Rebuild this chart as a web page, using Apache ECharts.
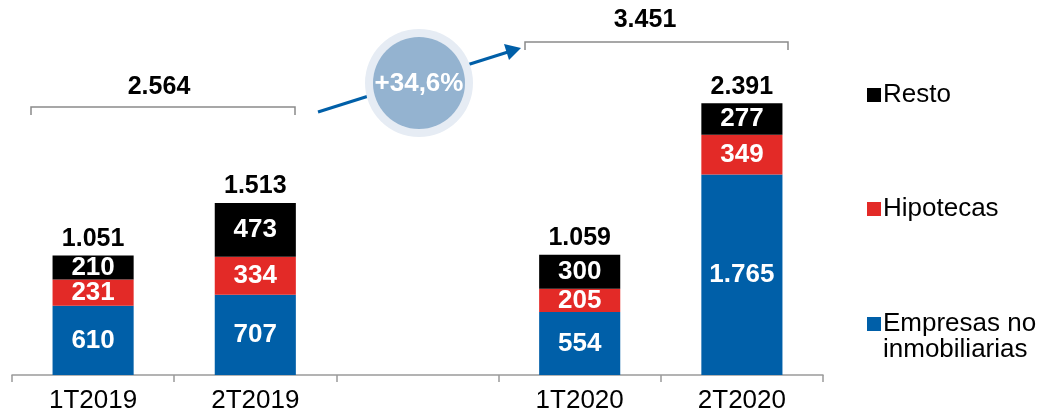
<!DOCTYPE html>
<html>
<head>
<meta charset="utf-8">
<script src="https://cdn.jsdelivr.net/npm/echarts@6/dist/echarts.min.js"></script>
<style>
  html, body { margin: 0; padding: 0; background: #fff; }
  #chart { width: 1043px; height: 418px; }
</style>
</head>
<body>
<div id="chart"></div>
<script>
// datos
const categories = ['1T2019', '2T2019', '', '1T2020', '2T2020'];
const empresas = [610, 707, null, 554, 1765];
const hipotecas = [231, 334, null, 205, 349];
const resto = [210, 473, null, 300, 277];
const totales = [1051, 1513, null, 1059, 2391];
const semestres = ['2.564', '3.451'];
const variacion = '+34,6%';

const FONT = '"Liberation Sans", Arial, sans-serif';
const BLUE = '#005fa8';
const RED = '#e32a27';
const GRAY = '#9a9a9a';

const fmt = (v) => {
  if (v == null) return '';
  return String(v).replace(/\B(?=(\d{3})+(?!\d))/g, '.');
};

const chart = echarts.init(document.getElementById('chart'));

const innerLabel = {
  show: true,
  position: 'inside',
  color: '#fff',
  fontFamily: FONT,
  fontWeight: 'bold',
  fontSize: 26,
  formatter: (p) => fmt(p.value)
};

const legendText = { fontSize: 26, fontFamily: FONT, color: '#000', padding: [0, 0, 0, -3] };

const option = {
  animation: false,
  textStyle: { fontFamily: FONT },
  grid: { left: 12, right: 220, top: 0, bottom: 43 },
  xAxis: {
    type: 'category',
    data: categories,
    axisLine: { lineStyle: { color: GRAY, width: 1.5 } },
    axisTick: { show: true, length: 7, lineStyle: { color: GRAY, width: 1.5 } },
    axisLabel: { color: '#000', fontSize: 26, fontFamily: FONT, margin: 13 }
  },
  yAxis: {
    type: 'value',
    min: 0,
    max: 3300,
    show: false,
    splitLine: { show: false }
  },
  legend: [
    {
      data: ['Resto'], orient: 'vertical', left: 862, top: 77,
      itemWidth: 14, itemHeight: 14, icon: 'rect', textStyle: legendText
    },
    {
      data: ['Hipotecas'], orient: 'vertical', left: 862, top: 191,
      itemWidth: 14, itemHeight: 14, icon: 'rect', textStyle: legendText
    },
    {
      data: ['Empresas no inmobiliarias'], orient: 'vertical', left: 862, top: 306,
      itemWidth: 14, itemHeight: 14, icon: 'rect',
      formatter: () => 'Empresas no', textStyle: legendText
    }
  ],
  series: [
    {
      name: 'Empresas no inmobiliarias', type: 'bar', stack: 'total', barWidth: '50%',
      data: empresas, itemStyle: { color: BLUE }, label: innerLabel
    },
    {
      name: 'Hipotecas', type: 'bar', stack: 'total',
      data: hipotecas, itemStyle: { color: RED }, label: innerLabel
    },
    {
      name: 'Resto', type: 'bar', stack: 'total',
      data: resto, itemStyle: { color: '#000' }, label: innerLabel
    },
    {
      name: 'Total', type: 'bar', stack: 'total',
      data: totales.map((t) => (t == null ? null : 0)),
      itemStyle: { color: 'transparent' },
      label: {
        show: true,
        position: 'top',
        distance: 4,
        color: '#000',
        fontFamily: FONT,
        fontWeight: 'bold',
        fontSize: 25,
        formatter: (p) => fmt(totales[p.dataIndex])
      }
    }
  ],
  graphic: [
    // corchete 2019
    {
      type: 'polyline', silent: true,
      shape: { points: [[31, 115], [31, 107], [295, 107], [295, 115]] },
      style: { stroke: '#8a8a8a', lineWidth: 1.5, fill: null }
    },
    {
      type: 'text', x: 159, y: 87,
      style: { text: semestres[0], font: 'bold 25px ' + FONT, fill: '#000', align: 'center', verticalAlign: 'middle' }
    },
    // corchete 2020
    {
      type: 'polyline', silent: true,
      shape: { points: [[525, 50], [525, 42], [788, 42], [788, 50]] },
      style: { stroke: '#8a8a8a', lineWidth: 1.5, fill: null }
    },
    {
      type: 'text', x: 645, y: 20,
      style: { text: semestres[1], font: 'bold 25px ' + FONT, fill: '#000', align: 'center', verticalAlign: 'middle' }
    },
    // flecha
    {
      type: 'line',
      shape: { x1: 318, y1: 112, x2: 508, y2: 52 },
      style: { stroke: BLUE, lineWidth: 3 }
    },
    {
      type: 'polygon',
      shape: { points: [[521, 48], [504, 44], [509, 60]] },
      style: { fill: BLUE }
    },
    // circulo
    {
      type: 'circle',
      shape: { cx: 419, cy: 83, r: 54 },
      style: { fill: '#e6ecf4' }
    },
    {
      type: 'circle',
      shape: { cx: 419, cy: 83, r: 46 },
      style: { fill: '#94b3d0' }
    },
    {
      type: 'text', x: 419, y: 84,
      style: { text: variacion, font: 'bold 26px ' + FONT, fill: '#fff', align: 'center', verticalAlign: 'middle' }
    },
    // segunda linea de la leyenda
    {
      type: 'text', x: 883, y: 350,
      style: { text: 'inmobiliarias', font: '26px ' + FONT, fill: '#000', verticalAlign: 'middle' }
    }
  ]
};

chart.setOption(option);
</script>
</body>
</html>
